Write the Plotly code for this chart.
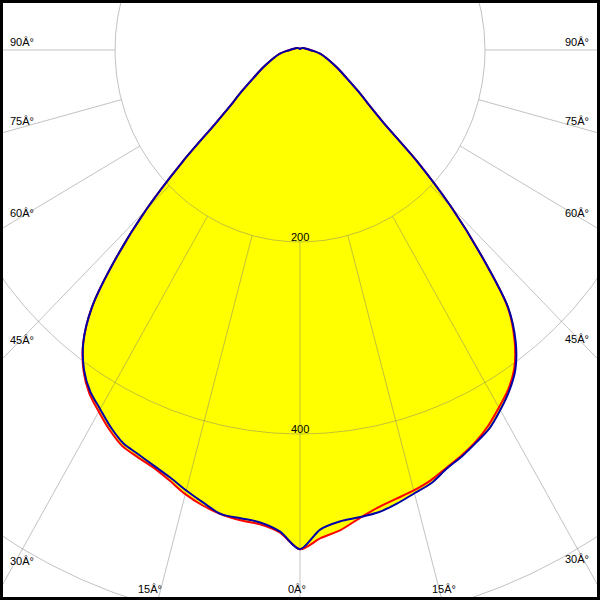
import numpy as np
import plotly.graph_objects as go

# ---------------- data (luminous intensity, cd) ----------------
gamma = [0, 2.5, 5, 7.5, 10, 12.5, 15, 17.5, 20, 22.5, 25, 27.5, 30, 32.5, 35,
         37.5, 40, 42.5, 45, 47.5, 50, 52.5, 55, 60, 65, 70, 75, 80, 85, 90,
         100, 120, 150, 180]
# C0 (right) / C180 (left) plane - red
c0 = [520, 509, 502, 492, 484, 479, 475, 470, 463, 457, 450, 441, 430, 419, 404,
      381, 349, 290, 231, 172, 118, 94, 80, 58, 45, 35, 28, 22, 16, 11,
      7, 4, 2, 1]
c180 = [520, 503, 496, 494, 491, 486, 479, 470, 463, 459, 455, 446, 435, 424, 408,
        385, 350, 295, 235, 172, 120, 94, 80, 58, 45, 35, 28, 22, 16, 11,
        7, 4, 2, 1]
# C90 (right) / C270 (left) plane - blue
c90 = [520, 500, 493, 491, 489, 484, 478, 473, 464, 458, 451, 444, 433, 421, 406,
       383, 350, 290, 231, 172, 118, 94, 80, 58, 45, 35, 28, 22, 16, 11,
       7, 4, 2, 1]
c270 = [520, 502, 494, 492, 491, 483, 475, 467, 461, 456, 452, 443, 432, 422, 407,
        385, 350, 295, 235, 172, 120, 94, 80, 58, 45, 35, 28, 22, 16, 11,
        7, 4, 2, 1]

radial_ticks = [200, 400, 600]
radial_labels = ["200", "400"]
angle_ticks = [0, 15, 30, 45, 60, 75, 90]
side_angles = [30, 45, 60, 75, 90]
side_labels = ["30Â°", "45Â°", "60Â°", "75Â°", "90Â°"]
bottom_angles = [-15, 0, 15]
bottom_labels = ["15Â°", "0Â°", "15Â°"]

# ---------------- layout geometry ----------------
W = H = 600
CX, CY = 300, 50          # pole position in pixels
SX, SY = 0.925, 0.96      # pixels per cd
x_range = [-CX / SX, (W - CX) / SX]
y_range = [-(H - CY) / SY, CY / SY]

FONT = dict(family="Liberation Sans, Arial, sans-serif", size=11, color="#000000")
GRID = "rgba(120,120,120,0.45)"


def plane_xy(left, right):
    g = np.radians(gamma)
    l = np.asarray(left, float)
    r = np.asarray(right, float)
    xl, yl = -l * np.sin(g), -l * np.cos(g)
    xr, yr = r * np.sin(g), -r * np.cos(g)
    return (np.concatenate([xl[::-1], xr[1:]]),
            np.concatenate([yl[::-1], yr[1:]]))


red_x, red_y = plane_xy(c180, c0)
blue_x, blue_y = plane_xy(c270, c90)

fig = go.Figure()

# fills (union of both planes)
for xs, ys in [(red_x, red_y), (blue_x, blue_y)]:
    fig.add_trace(go.Scatter(x=xs, y=ys, mode="lines", fill="toself",
                             fillcolor="#FFFF00",
                             line=dict(width=0, color="#FFFF00", shape="spline", smoothing=0.8),
                             hoverinfo="skip", showlegend=False))

# grid circles
t = np.linspace(0, 2 * np.pi, 721)
gx, gy = [], []
for r in radial_ticks:
    gx += list(r * np.cos(t)) + [None]
    gy += list(r * np.sin(t)) + [None]
# radial lines (outside the first circle)
for a in angle_ticks:
    for s in ([1] if a == 0 else [-1, 1]):
        ar = np.radians(s * a)
        gx += [radial_ticks[0] * np.sin(ar), 1500 * np.sin(ar), None]
        gy += [-radial_ticks[0] * np.cos(ar), -1500 * np.cos(ar), None]
fig.add_trace(go.Scatter(x=gx, y=gy, mode="lines", line=dict(color=GRID, width=1),
                         hoverinfo="skip", showlegend=False))

# curves
fig.add_trace(go.Scatter(x=red_x, y=red_y, mode="lines",
                         line=dict(color="#FF0000", width=2, shape="spline", smoothing=0.8),
                         hoverinfo="skip", showlegend=False))
fig.add_trace(go.Scatter(x=blue_x, y=blue_y, mode="lines",
                         line=dict(color="#0000A8", width=2, shape="spline", smoothing=0.8),
                         hoverinfo="skip", showlegend=False))

ann = []
# radial value labels
for r, lab in zip(radial_ticks, radial_labels):
    ann.append(dict(x=0, y=-r, text=lab, showarrow=False, xanchor="center",
                    yanchor="bottom", yshift=-3, font=FONT))

# side angle labels
xl_data = (8 - CX) / SX
xr_data = (591 - CX) / SX
for a, lab in zip(side_angles, side_labels):
    ar = np.radians(a)
    yl = -abs(xl_data) / np.tan(ar) if a < 90 else 0.0
    yr = -abs(xr_data) / np.tan(ar) if a < 90 else 0.0
    ys = 0.5 + 6 * np.cos(ar)
    ann.append(dict(x=xl_data, y=yl, text=lab, showarrow=False, xanchor="left",
                    yanchor="bottom", yshift=ys, font=FONT))
    ann.append(dict(x=xr_data, y=yr, text=lab, showarrow=False, xanchor="right",
                    yanchor="bottom", yshift=ys, font=FONT))

# bottom angle labels
yb_data = -(597 - CY) / SY
for a, lab in zip(bottom_angles, bottom_labels):
    ar = np.radians(a)
    xb = -yb_data * np.tan(ar)
    ann.append(dict(x=xb, y=0, xref="x", yref="paper", text=lab, showarrow=False,
                    xanchor="center", yanchor="bottom", yshift=3,
                    xshift=-3 + 23 * np.sin(ar), font=FONT))

fig.update_layout(
    width=W, height=H,
    margin=dict(l=0, r=0, t=0, b=0, pad=0),
    paper_bgcolor="#FFFFFF", plot_bgcolor="#FFFFFF",
    xaxis=dict(range=x_range, visible=False, fixedrange=True),
    yaxis=dict(range=y_range, visible=False, fixedrange=True),
    annotations=ann,
    shapes=[dict(type="rect", xref="paper", yref="paper", x0=0, x1=1, y0=0, y1=1,
                 line=dict(color="#000000", width=6))],
    showlegend=False,
    hovermode=False,
)

fig.write_html("out.html",
               config={"displayModeBar": False, "staticPlot": True},
               post_script="document.body.style.margin='0';document.body.style.padding='0';")
